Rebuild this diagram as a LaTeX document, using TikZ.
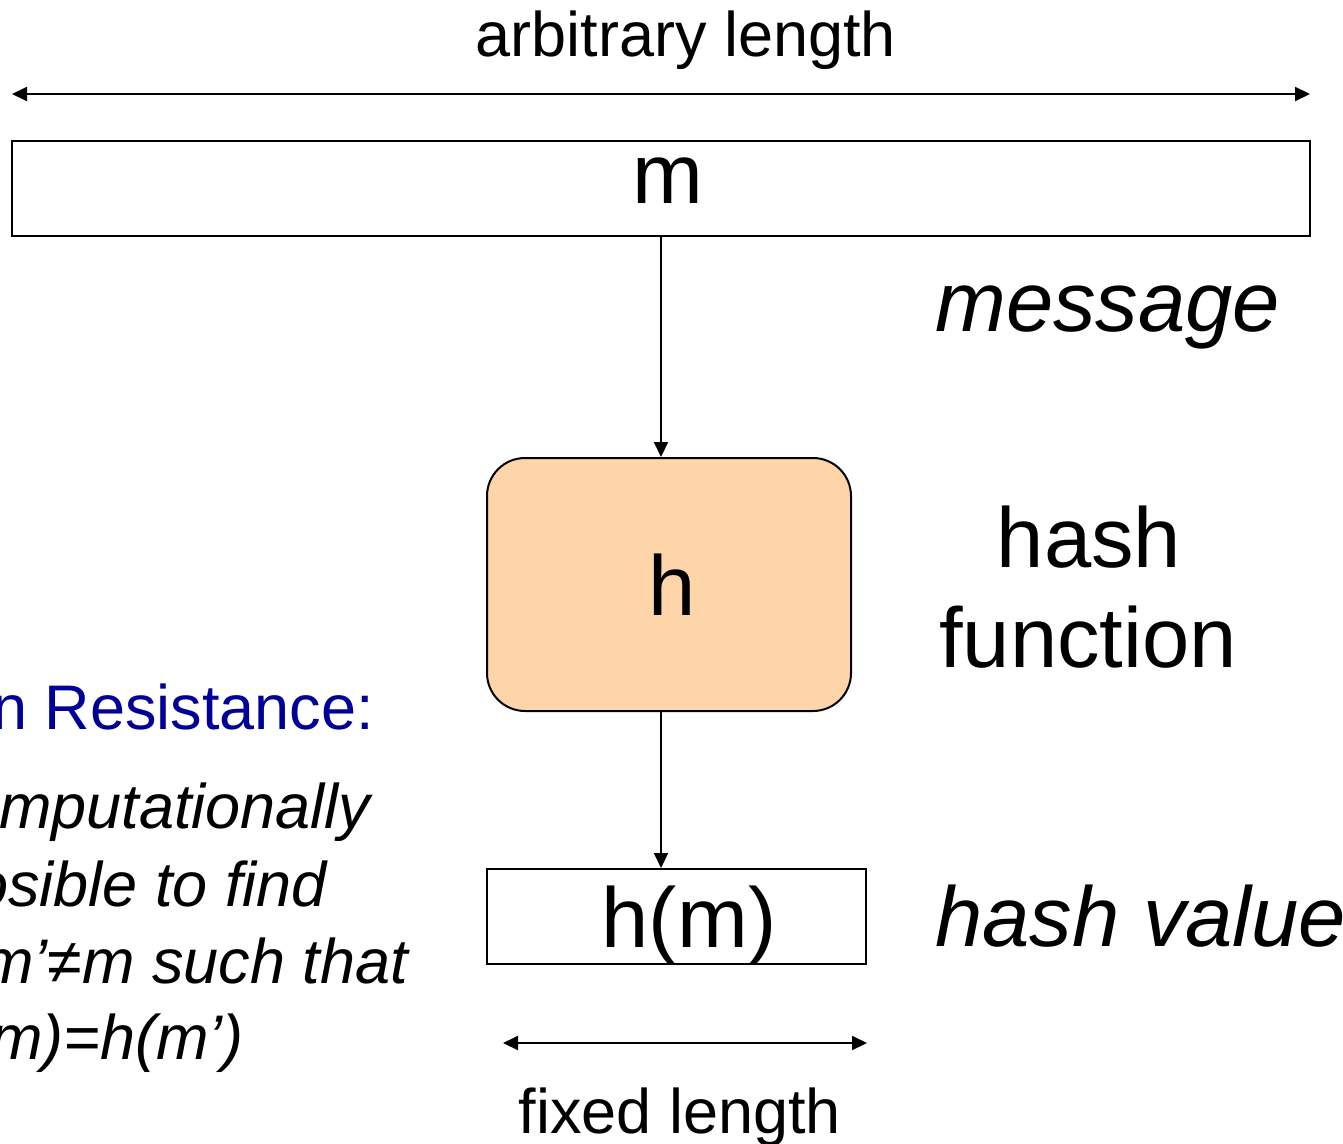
\documentclass[tikz,border=0pt]{standalone}
\usepackage{fontspec}
\setmainfont{Liberation Sans}
\usetikzlibrary{arrows.meta}
\definecolor{peach}{RGB}{253,213,168}
\definecolor{titleblue}{RGB}{0,0,153}
\tikzset{
  lbl/.style={inner sep=0pt, font=\fontsize{63}{77}\selectfont},
  big/.style={inner sep=0pt, font=\fontsize{85}{100}\selectfont},
  bigit/.style={inner sep=0pt, font=\fontsize{85}{100}\selectfont\itshape},
  note/.style={inner sep=0pt, font=\fontsize{63}{77}\selectfont\itshape},
  boxed/.style={draw, line width=2pt, inner sep=0pt},
  conn/.style={line width=2pt, -{Triangle[length=15pt,width=14pt]}},
  dim/.style={line width=2pt, {Triangle[length=15pt,width=14pt]}-{Triangle[length=15pt,width=14pt]}}
}
\begin{document}
\begin{tikzpicture}[x=1pt,y=-1pt]
\useasboundingbox (0,0) rectangle (1343,1143);
\fill[white] (0,0) rectangle (1343,1143);
% top dimension
\node[lbl, anchor=base] (arb) at (686,56) {arbitrary length};
\coordinate (al) at (12,94);
\coordinate (ar) at (1310,94);
\draw[dim] (al) -- (ar);
% message box
\node[boxed, minimum width=1298pt, minimum height=95pt] (mbox) at (661,188.5) {};
\node[big, anchor=base] (mtxt) at (668,203) {m};
\node[bigit, anchor=base west] (msg) at (935,331) {message};
% hash function box
\node[boxed, fill=peach, rounded corners=38pt, minimum width=364pt, minimum height=253pt] (hbox) at (669,584.5) {};
\node[big, anchor=base] (htxt) at (672,615) {h};
\node[big, anchor=base] (hash1) at (1089,567) {hash};
\node[big, anchor=base] (hash2) at (1088,667) {function};
% hash value box
\node[boxed, minimum width=379pt, minimum height=95pt] (hmbox) at (676.5,916.5) {};
\node[big, anchor=base] (hmtxt) at (689,947) {h(m)};
\node[bigit, anchor=base west] (hval) at (935,946) {hash value};
% connectors
\draw[conn] (mbox.south -| 661,0) -- (hbox.north -| 661,0);
\draw[conn] (hbox.south -| 661,0) -- (hmbox.north -| 661,0);
% bottom dimension
\coordinate (fl) at (503,1043);
\coordinate (fr) at (867,1043);
\draw[dim] (fl) -- (fr);
\node[lbl, anchor=base] (fix) at (680,1133) {fixed length};
% left text (cut by the frame)
\node[lbl, anchor=base west, text=titleblue] (res) at (-8,729) {n Resistance:};
\node[note, anchor=base west] (l1) at (-1,828) {mputationally};
\node[note, anchor=base west] (l2) at (-27,906) {osible to find};
\node[note, anchor=base west] (l3) at (-19,983) {m’≠m such that};
\node[note, anchor=base west] (l4) at (-10,1059) {m)=h(m’)};
\end{tikzpicture}
\end{document}
